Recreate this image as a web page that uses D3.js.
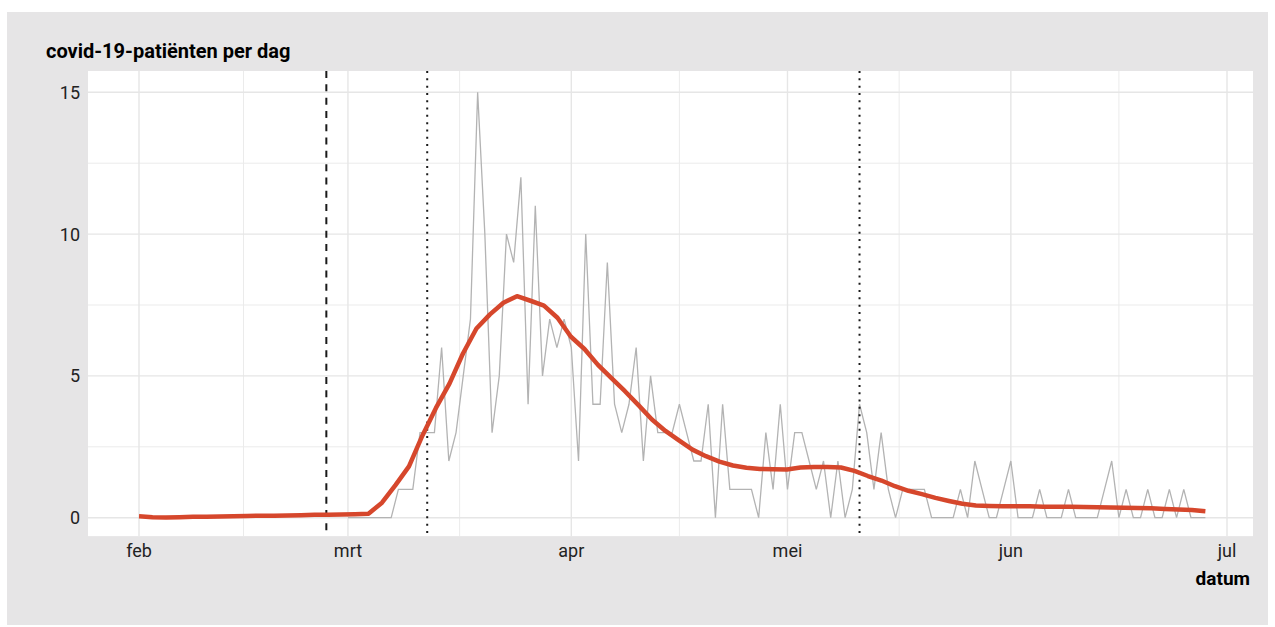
<!DOCTYPE html>
<html>
<head>
<meta charset="utf-8">
<script src="https://cdn.jsdelivr.net/npm/d3@7"></script>
<style>
  body { margin: 0; background: #fff; }
  text { font-family: Roboto, "Liberation Sans", sans-serif; }
</style>
</head>
<body>
<div id="chart"></div>
<script>
// daily covid-19 patients, one value per day of the month
const marchCounts = [0,0,0,0,0,0,0,1,1,1,3,3,3,6,2,3,5,7,15,10,3,5,10,9,12,4,11,5,7,6,7];
const aprilCounts = [6,2,10,4,4,9,4,3,4,6,2,5,3,3,3,4,3,2,2,4,0,4,1,1,1,1,0,3,1,4];
const mayCounts   = [1,3,3,2,1,2,0,2,0,1,4,3,1,3,1,0,1,1,1,1,0,0,0,0,1,0,2,1,0,0,1];
const juneCounts  = [2,0,0,0,1,0,0,0,1,0,0,0,0,1,2,0,1,0,0,1,0,0,1,0,1,0,0,0];

// smoothed trend (80 evaluation points from 1 feb to 28 jun)
const smoothFrom = "2020-02-01";
const smoothTo = "2020-06-28";
const smoothValues = [
  0.05,0.02,0.01,0.02,0.03,0.03,0.04,0.05,0.06,0.07,0.07,0.08,0.09,0.10,0.10,0.11,0.12,0.14,
  0.53,1.15,1.81,2.90,3.87,4.73,5.79,6.67,7.17,7.58,7.81,7.65,7.48,7.05,6.38,5.95,5.39,4.92,
  4.46,3.97,3.46,3.06,2.73,2.40,2.17,1.98,1.84,1.76,1.72,1.71,1.70,1.77,1.79,1.79,1.77,1.65,
  1.47,1.31,1.11,0.95,0.83,0.70,0.59,0.49,0.43,0.41,0.40,0.40,0.40,0.39,0.39,0.39,0.38,0.37,
  0.36,0.35,0.34,0.33,0.31,0.29,0.27,0.23
];

const eventDates = ["2020-02-27", "2020-03-12", "2020-05-11"];
const eventDash = ["7,6.3", "2,5.3", "2,5.3"];

const monthLabels = ["feb", "mrt", "apr", "mei", "jun", "jul"];
const yTicks = [0, 5, 10, 15];
const titleText = "covid-19-patiënten per dag";
const xTitle = "datum";

const W = 1275, H = 627;
const panel = { left: 88, right: 1253 };

const parse = d3.timeParse("%Y-%m-%d");

// build daily rows
const months = [[2, marchCounts], [3, aprilCounts], [4, mayCounts], [5, juneCounts]];
const daily = [];
months.forEach(([m, arr]) => arr.forEach((v, i) => daily.push({ date: new Date(2020, m, i + 1), value: v })));

const t0 = parse(smoothFrom), t1 = parse(smoothTo);
const smooth = smoothValues.map((v, i) => ({
  date: new Date(+t0 + (t1 - t0) * i / (smoothValues.length - 1)),
  value: v
}));

const x = d3.scaleTime()
  .domain([new Date(2020, 1, 1), new Date(2020, 6, 1)])
  .range([139, 1227]);
const y = d3.scaleLinear().domain([0, 15]).range([517.7, 92.3]);

const svg = d3.select("#chart").append("svg")
  .attr("width", W).attr("height", H);

svg.append("rect").attr("x", 7).attr("y", 12)
  .attr("width", 1261).attr("height", 613).attr("fill", "#e6e5e6");

const panelTop = y(15.75), panelBottom = y(-0.65);
svg.append("rect")
  .attr("x", panel.left).attr("y", panelTop)
  .attr("width", panel.right - panel.left).attr("height", panelBottom - panelTop)
  .attr("fill", "#fff");

// grid
const monthTicks = d3.timeMonth.range(new Date(2020, 1, 1), new Date(2020, 6, 2));
const minorX = d3.pairs(monthTicks).map(([a, b]) => new Date((+a + +b) / 2));
const grid = svg.append("g");
minorX.forEach(d => grid.append("line")
  .attr("x1", x(d)).attr("x2", x(d)).attr("y1", panelTop).attr("y2", panelBottom)
  .attr("stroke", "#ebebeb").attr("stroke-width", 1));
[2.5, 7.5, 12.5].forEach(v => grid.append("line")
  .attr("x1", panel.left).attr("x2", panel.right).attr("y1", y(v)).attr("y2", y(v))
  .attr("stroke", "#ebebeb").attr("stroke-width", 1));
monthTicks.forEach(d => grid.append("line")
  .attr("x1", x(d)).attr("x2", x(d)).attr("y1", panelTop).attr("y2", panelBottom)
  .attr("stroke", "#e6e6e6").attr("stroke-width", 1.4));
yTicks.forEach(v => grid.append("line")
  .attr("x1", panel.left).attr("x2", panel.right).attr("y1", y(v)).attr("y2", y(v))
  .attr("stroke", "#e6e6e6").attr("stroke-width", 1.4));

// daily line
svg.append("path")
  .datum(daily)
  .attr("fill", "none")
  .attr("stroke", "#b3b3b3")
  .attr("stroke-width", 1.3)
  .attr("stroke-linejoin", "miter")
  .attr("d", d3.line().x(d => x(d.date)).y(d => y(d.value)));

// event lines
eventDates.forEach((d, i) => svg.append("line")
  .attr("x1", x(parse(d))).attr("x2", x(parse(d)))
  .attr("y1", panelTop).attr("y2", panelBottom)
  .attr("stroke", "#1a1a1a").attr("stroke-width", 2)
  .attr("stroke-dasharray", eventDash[i]));

// trend line
svg.append("path")
  .datum(smooth)
  .attr("fill", "none")
  .attr("stroke", "#d6472c")
  .attr("stroke-width", 4.5)
  .attr("stroke-linejoin", "round")
  .attr("d", d3.line().x(d => x(d.date)).y(d => y(d.value)));

// axes labels
svg.append("g").selectAll("text")
  .data(yTicks).join("text")
  .attr("x", 80).attr("y", d => y(d))
  .attr("dy", "0.36em")
  .attr("text-anchor", "end")
  .attr("font-size", 18).attr("fill", "#222")
  .text(d => d);

svg.append("g").selectAll("text")
  .data(monthTicks).join("text")
  .attr("x", d => x(d)).attr("y", 557)
  .attr("text-anchor", "middle")
  .attr("font-size", 18).attr("fill", "#222")
  .text((d, i) => monthLabels[i]);

svg.append("text")
  .attr("x", 1250).attr("y", 585)
  .attr("text-anchor", "end")
  .attr("font-size", 19).attr("font-weight", "bold").attr("fill", "#000")
  .text(xTitle);

svg.append("text")
  .attr("x", 46).attr("y", 58)
  .attr("font-size", 20).attr("font-weight", "bold").attr("fill", "#000")
  .text(titleText);
</script>
</body>
</html>
